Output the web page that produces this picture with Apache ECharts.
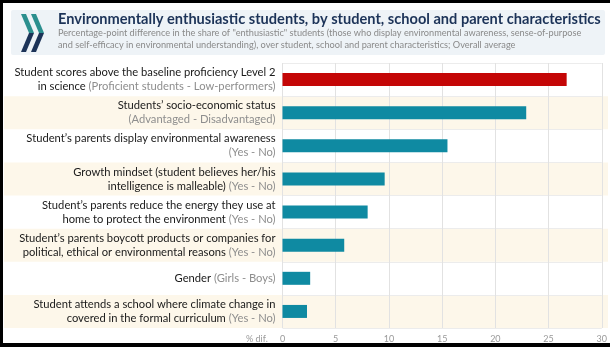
<!DOCTYPE html>
<html>
<head>
<meta charset="utf-8">
<script src="https://cdn.jsdelivr.net/npm/echarts@6/dist/echarts.min.js"></script>
<style>
  html, body { margin: 0; padding: 0; background: #fff; }
  #chart { width: 610px; height: 347px; }
</style>
</head>
<body>
<div id="chart"></div>
<script>
// Characteristics (top to bottom); "{g|...}" marks the grey contrast note
const categories = [
  'Student scores above the baseline proficiency Level 2\nin science {g|(Proficient students - Low-performers)}',
  'Students\u2019 socio-economic status\n{g|(Advantaged - Disadvantaged)}',
  'Student\u2019s parents display environmental awareness\n{g|(Yes - No)}',
  'Growth mindset (student believes her/his\nintelligence is malleable) {g|(Yes - No)}',
  'Student\u2019s parents reduce the energy they use at\nhome to protect the environment {g|(Yes - No)}',
  'Student\u2019s parents boycott products or companies for\npolitical, ethical or environmental reasons {g|(Yes - No)}',
  'Gender {g|(Girls - Boys)}',
  'Student attends a school where climate change in\ncovered in the formal curriculum {g|(Yes - No)}'
];
// Percentage-point difference in the share of enthusiastic students
const values = [26.7, 22.9, 15.5, 9.6, 8.0, 5.8, 2.6, 2.3];
// First row is highlighted
const highlighted = [true, false, false, false, false, false, false, false];
const xTicks = [0, 5, 10, 15, 20, 25, 30];

const title = 'Environmentally enthusiastic students, by student, school and parent characteristics';
const subtitle = [
  'Percentage-point difference in the share of "enthusiastic" students (those who display environmental awareness, sense-of-purpose',
  'and self-efficacy in environmental understanding), over student, school and parent characteristics; Overall average'
];

const TEAL = '#0f8aa2';
const RED = '#c40606';
const NAVY = '#1c3358';

const chart = echarts.init(document.getElementById('chart'), null, { renderer: 'canvas' });

const plotTop = 63, plotBottom = 19;

chart.setOption({
  animation: false,
  backgroundColor: '#ffffff',
  textStyle: { fontFamily: 'Lato, "Open Sans", sans-serif' },
  grid: [
    // full-width banded background behind labels and bars
    { left: 4, right: 2, top: plotTop, bottom: plotBottom, containLabel: false },
    // the bar plot itself
    { left: 282.5, right: 2.5, top: plotTop, bottom: plotBottom, containLabel: false }
  ],
  xAxis: [
    { gridIndex: 0, type: 'value', min: 0, max: 1, show: false },
    {
      gridIndex: 1, type: 'value', min: xTicks[0], max: xTicks[xTicks.length - 1], interval: 5,
      axisLine: { show: false }, axisTick: { show: false },
      axisLabel: { color: '#9a9a9a', fontSize: 9, margin: 7,
        formatter: v => xTicks.includes(v) ? String(v) : '' },
      splitLine: { show: true, lineStyle: { color: '#e2e2e2', width: 1 } }
    }
  ],
  yAxis: [
    {
      gridIndex: 0, type: 'category', data: categories, inverse: true,
      axisLine: { show: false }, axisTick: { show: false }, axisLabel: { show: false },
      splitArea: { show: true, areaStyle: { color: ['rgba(255,255,255,0)', '#fdf7ea'] } },
      splitLine: { show: false }
    },
    {
      gridIndex: 1, type: 'category', data: categories, inverse: true,
      axisLine: { show: false }, axisTick: { show: false },
      splitLine: { show: true, lineStyle: { color: '#ececec', width: 1 } },
      axisLabel: {
        margin: 7, align: 'right', color: '#1a1a1a', fontSize: 11.2, lineHeight: 14,
        fontWeight: 'normal',
        rich: { g: { color: '#8e8e8e', fontSize: 11.2, lineHeight: 14, fontWeight: 'normal' } }
      }
    }
  ],
  series: [
    {
      type: 'bar', xAxisIndex: 1, yAxisIndex: 1, barWidth: 13,
      data: values.map((v, i) => ({ value: v, itemStyle: { color: highlighted[i] ? RED : TEAL } }))
    }
  ],
  graphic: [
    // frame
    { type: 'rect', shape: { x: 0, y: 0, width: 610, height: 3 }, style: { fill: '#000' }, z: 100 },
    { type: 'rect', shape: { x: 0, y: 0, width: 3, height: 347 }, style: { fill: '#000' }, z: 100 },
    { type: 'rect', shape: { x: 0, y: 343, width: 610, height: 4 }, style: { fill: '#000' }, z: 100 },
    // header panel
    { type: 'rect', shape: { x: 11, y: 10, width: 594, height: 45, r: 2 }, style: { fill: '#eef3f7' }, z: 1 },
    // chevron logo
    { type: 'polygon', shape: { points: [[21, 14], [26, 14], [34, 33], [29, 33]] }, style: { fill: '#2b8f8e' }, z: 2 },
    { type: 'polygon', shape: { points: [[29, 33], [34, 33], [26, 52], [21, 52]] }, style: { fill: NAVY }, z: 2 },
    { type: 'polygon', shape: { points: [[31, 14], [36, 14], [44, 33], [39, 33]] }, style: { fill: '#2b8f8e' }, z: 2 },
    { type: 'polygon', shape: { points: [[39, 33], [44, 33], [36, 52], [31, 52]] }, style: { fill: NAVY }, z: 2 },
    // title & subtitle
    { type: 'text', x: 58, y: 12, z: 3, style: { text: title, fill: NAVY, font: 'bold 14.6px Lato, sans-serif' } },
    { type: 'text', x: 58, y: 29, z: 3, style: { text: subtitle[0], fill: '#8a8a8a', font: '9.2px Lato, sans-serif' } },
    { type: 'text', x: 58, y: 41, z: 3, style: { text: subtitle[1], fill: '#8a8a8a', font: '9.2px Lato, sans-serif' } },
    // axis unit
    { type: 'text', x: 246, y: 335, z: 3, style: { text: '% dif.', fill: '#9a9a9a', font: '9px Lato, sans-serif' } }
  ]
});
</script>
</body>
</html>
